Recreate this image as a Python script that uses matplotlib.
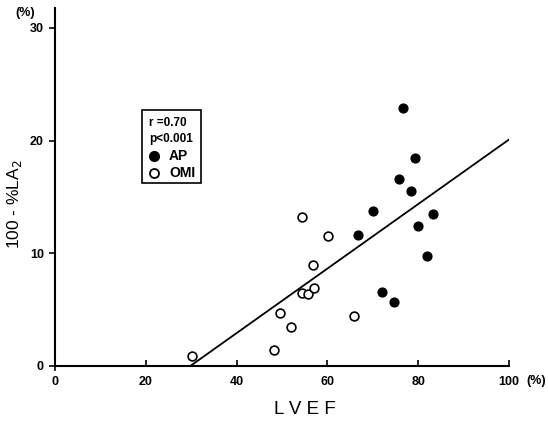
import matplotlib
matplotlib.use("Agg")
import matplotlib.pyplot as plt
from matplotlib.patches import Rectangle

# Data
ap_x = [76.7, 79.4, 75.7, 78.4, 70.0, 83.3, 66.8, 80.0, 82.0, 72.1, 74.6]
ap_y = [22.9, 18.5, 16.6, 15.5, 13.8, 13.5, 11.6, 12.4, 9.8, 6.6, 5.7]
omi_x = [54.4, 60.1, 56.8, 54.4, 55.8, 57.0, 49.6, 51.9, 65.8, 48.2, 30.2]
omi_y = [13.2, 11.5, 9.0, 6.5, 6.4, 6.9, 4.7, 3.5, 4.4, 1.4, 0.9]
fit_x = [29.8, 100]
fit_y = [0.0, 20.1]
x_ticks = [0, 20, 40, 60, 80, 100]
y_ticks = [0, 10, 20, 30]

W, H = 548, 422
fig = plt.figure(figsize=(W / 100, H / 100), dpi=100)
x0, x1 = 55, 509
y0, ytop = 366, 8
ax = fig.add_axes([x0 / W, (H - y0) / H, (x1 - x0) / W, (y0 - ytop) / H])
ax.set_xlim(0, 100)
ax.set_ylim(0, (y0 - ytop) / ((366 - 28) / 30))

ax.plot(fit_x, fit_y, color="black", lw=1.3, zorder=2)
ax.scatter(ap_x, ap_y, s=40, color="black", zorder=3)
ax.scatter(omi_x, omi_y, s=40, facecolor="white", edgecolor="black", lw=1.2, zorder=3)

for s in ["top", "right"]:
    ax.spines[s].set_visible(False)
for s in ["left", "bottom"]:
    ax.spines[s].set_linewidth(1.5)

tick_font = dict(fontfamily="Liberation Sans", fontweight="bold", fontsize=9)
ax.set_xticks(x_ticks)
ax.set_yticks(y_ticks)
ax.set_xticklabels([str(v) for v in x_ticks], **tick_font)
ax.set_yticklabels([str(v) for v in y_ticks], **tick_font)
ax.tick_params(axis="x", direction="in", length=4, width=1.2, pad=7)
ax.tick_params(axis="y", direction="out", length=4, width=1.2, pad=4)
# cross tick at origin
ax.plot([0, 0], [0, -0.35], color="black", lw=1.2, clip_on=False)

fig.text(25 / W, 1 - 13 / H, "(%)", ha="center", va="center", **tick_font)
fig.text(536 / W, 1 - 381 / H, "(%)", ha="center", va="center", **tick_font)

fig.text(15 / W, 1 - 204 / H, "100 - %LA$_2$", rotation=90, fontfamily="Liberation Sans",
         fontsize=12.5, ha="center", va="center")
fig.text(305 / W, 1 - 409 / H, "L V E F", fontfamily="Liberation Sans", fontsize=13.5,
         ha="center", va="center")

# legend box
fig.patches.append(Rectangle((142 / W, 1 - 183 / H), (201 - 142) / W, (183 - 110) / H,
                             transform=fig.transFigure, fill=False, edgecolor="black", lw=1.2))
leg_font = dict(fontfamily="Liberation Sans", fontweight="bold", fontsize=8.5)
fig.text(149 / W, 1 - 123 / H, "r =0.70", va="center", **leg_font)
fig.text(149 / W, 1 - 139 / H, "p<0.001", va="center", **leg_font)
fig.lines.append(plt.Line2D([154 / W], [1 - 156 / H], marker="o", ms=7, color="black",
                            transform=fig.transFigure))
fig.lines.append(plt.Line2D([154 / W], [1 - 173 / H], marker="o", ms=6.5, mfc="white", mec="black",
                            mew=1.3, transform=fig.transFigure))
fig.text(169 / W, 1 - 156 / H, "AP", fontfamily="Liberation Sans", fontweight="bold", fontsize=10,
         va="center")
fig.text(169 / W, 1 - 173 / H, "OMI", fontfamily="Liberation Sans", fontweight="bold", fontsize=10,
         va="center")

fig.savefig("out.png", dpi=100)
